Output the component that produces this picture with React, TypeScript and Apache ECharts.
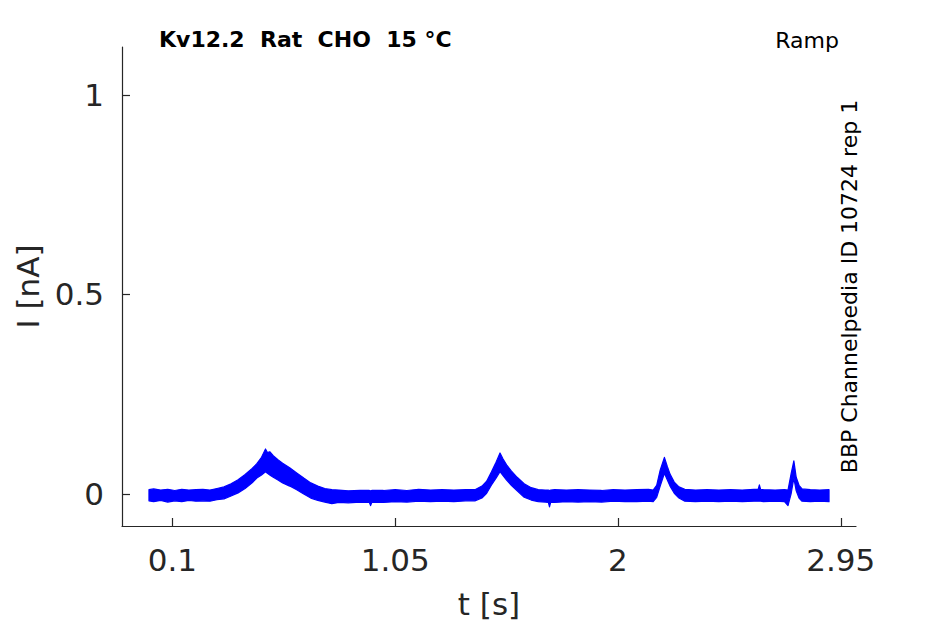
import React, { useEffect, useRef } from "react";
import * as echarts from "echarts";

// Time (s) of the read-off envelope points of the recorded current trace
const TIME = [
  0.0, 0.02, 0.05, 0.08, 0.11, 0.14, 0.17, 0.2, 0.23, 0.26, 0.29, 0.32, 0.35, 0.38, 0.41, 0.44, 0.46, 0.48, 0.497,
  0.505, 0.515, 0.53, 0.55, 0.57, 0.6, 0.63, 0.66, 0.69, 0.72, 0.75, 0.78, 0.81, 0.85, 0.9, 0.94, 0.945, 0.95,
  1.0, 1.05, 1.1, 1.15, 1.2, 1.25, 1.3, 1.35, 1.39, 1.42, 1.44, 1.46, 1.48, 1.497, 1.51, 1.525, 1.545, 1.57, 1.6,
  1.63, 1.66, 1.69, 1.703, 1.708, 1.713, 1.73, 1.78, 1.83, 1.88, 1.93, 1.98, 2.03, 2.08, 2.13, 2.15, 2.165, 2.18,
  2.198, 2.21, 2.222, 2.24, 2.26, 2.285, 2.33, 2.38, 2.43, 2.48, 2.53, 2.58, 2.598, 2.603, 2.608, 2.62, 2.67, 2.71,
  2.725, 2.738, 2.75, 2.76, 2.772, 2.785, 2.82, 2.86, 2.9,
];
// Lower edge of the noisy trace band (nA)
const LOWER = [
  -0.017, -0.019, -0.016, -0.02, -0.017, -0.019, -0.016, -0.018, -0.017, -0.018, -0.014, -0.012, -0.005, 0.003,
  0.014, 0.028, 0.04, 0.048, 0.056, 0.052, 0.048, 0.042, 0.035, 0.028, 0.02, 0.011, 0.0, -0.01, -0.016, -0.02,
  -0.024, -0.021, -0.022, -0.02, -0.021, -0.029, -0.021, -0.021, -0.019, -0.02, -0.018, -0.019, -0.018, -0.019,
  -0.017, -0.017, -0.01, 0.002, 0.022, 0.04, 0.056, 0.046, 0.035, 0.022, 0.008, -0.008, -0.015, -0.019, -0.02,
  -0.021, -0.032, -0.021, -0.021, -0.019, -0.02, -0.019, -0.02, -0.018, -0.019, -0.019, -0.018, -0.019, -0.008,
  0.02, 0.052, 0.036, 0.02, 0.002, -0.01, -0.018, -0.019, -0.018, -0.019, -0.018, -0.019, -0.018, -0.018,
  -0.018, -0.018, -0.019, -0.018, -0.019, -0.029, 0.0, 0.04, 0.008, -0.01, -0.018, -0.019, -0.018, -0.019,
];
// Upper edge of the noisy trace band (nA)
const UPPER = [
  0.011, 0.013, 0.01, 0.012, 0.009, 0.012, 0.01, 0.011, 0.012, 0.01, 0.014, 0.018, 0.026, 0.036, 0.049, 0.064,
  0.076, 0.092, 0.113, 0.104, 0.106, 0.096, 0.086, 0.077, 0.066, 0.053, 0.04, 0.028, 0.02, 0.014, 0.011, 0.01,
  0.008, 0.009, 0.009, 0.008, 0.009, 0.009, 0.011, 0.009, 0.012, 0.01, 0.011, 0.01, 0.011, 0.011, 0.02, 0.032,
  0.055, 0.08, 0.103, 0.088, 0.073, 0.058, 0.042, 0.026, 0.016, 0.011, 0.01, 0.01, 0.009, 0.01, 0.011, 0.01,
  0.011, 0.01, 0.009, 0.011, 0.01, 0.011, 0.012, 0.01, 0.022, 0.06, 0.092, 0.07, 0.05, 0.03, 0.018, 0.012, 0.01,
  0.011, 0.01, 0.011, 0.01, 0.012, 0.012, 0.023, 0.012, 0.011, 0.01, 0.011, 0.01, 0.05, 0.083, 0.042, 0.022, 0.013,
  0.011, 0.01, 0.011,
];

const X_TICKS = [0.1, 1.05, 2, 2.95];
const Y_TICKS = [0, 0.5, 1];
const TITLE = "Kv12.2  Rat  CHO  15 °C";
const PROTOCOL = "Ramp";
const SIDE_NOTE = "BBP Channelpedia ID 10724 rep 1";
const X_NAME = "t [s]";
const Y_NAME = "I [nA]";

const FONT = '"DejaVu Sans", "Liberation Sans", sans-serif';
const AXIS_COLOR = "#262626";
const TRACE_COLOR = "#0000ff";

export default function App() {
  const ref = useRef<HTMLDivElement>(null);

  useEffect(() => {
    if (!ref.current) return;
    const chart = echarts.init(ref.current, null, { renderer: "svg" });

    const axisCommon = {
      type: "value" as const,
      nameLocation: "middle" as const,
      nameTextStyle: { fontSize: 31, color: AXIS_COLOR, fontFamily: FONT },
      axisLine: { show: true, onZero: false, lineStyle: { color: AXIS_COLOR, width: 1.2 } },
      splitLine: { show: false },
    };

    const option: any = {
      animation: false,
      grid: { left: 122, right: 89, top: 47, bottom: 98, containLabel: false, outerBoundsMode: "none" },
      xAxis: {
        ...axisCommon,
        min: -0.115,
        max: 3.015,
        name: X_NAME,
        nameGap: 62,
        axisTick: { show: true, inside: true, length: 8, customValues: X_TICKS, lineStyle: { color: AXIS_COLOR, width: 1.2 } },
        axisLabel: {
          customValues: X_TICKS,
          formatter: (v: number) => String(v),
          fontSize: 31,
          color: AXIS_COLOR,
          fontFamily: FONT,
          margin: 18,
        },
      },
      yAxis: {
        ...axisCommon,
        min: -0.08,
        max: 1.12,
        name: Y_NAME,
        nameGap: 78,
        axisTick: { show: true, inside: true, length: 8, customValues: Y_TICKS, lineStyle: { color: AXIS_COLOR, width: 1.2 } },
        axisLabel: {
          customValues: Y_TICKS,
          formatter: (v: number) => String(v),
          fontSize: 31,
          color: AXIS_COLOR,
          fontFamily: FONT,
          margin: 18,
        },
      },
      series: [
        {
          type: "custom",
          coordinateSystem: "cartesian2d",
          silent: true,
          data: [[TIME[0], UPPER[0]]],
          encode: { x: 0, y: 1 },
          renderItem: (_params: any, api: any) => {
            const top = TIME.map((t, i) => api.coord([t, UPPER[i]]));
            const bottom = TIME.map((t, i) => api.coord([t, LOWER[i]])).reverse();
            return {
              type: "polygon",
              shape: { points: top.concat(bottom) },
              style: { fill: TRACE_COLOR, stroke: TRACE_COLOR, lineWidth: 1.2, lineJoin: "round" },
            };
          },
        },
      ],
      graphic: [
        {
          type: "text",
          x: 159,
          y: 39,
          style: {
            text: TITLE.replace(/ {2}/g, "\u00a0 "),
            font: `bold 22px ${FONT}`,
            fill: "#000",
            align: "left",
            verticalAlign: "middle",
          },
        },
        {
          type: "text",
          x: 839,
          y: 40,
          style: {
            text: PROTOCOL,
            font: `22px ${FONT}`,
            fill: "#000",
            align: "right",
            verticalAlign: "middle",
          },
        },
        {
          type: "text",
          x: 849.5,
          y: 286.5,
          rotation: Math.PI / 2,
          style: {
            text: SIDE_NOTE,
            font: `22px ${FONT}`,
            fill: "#000",
            align: "center",
            verticalAlign: "middle",
          },
        },
      ],
    };

    chart.setOption(option);
    return () => chart.dispose();
  }, []);

  return (
    <div
      ref={ref}
      style={{ position: "fixed", left: 0, top: 0, width: 945, height: 624, background: "#fff" }}
    />
  );
}
